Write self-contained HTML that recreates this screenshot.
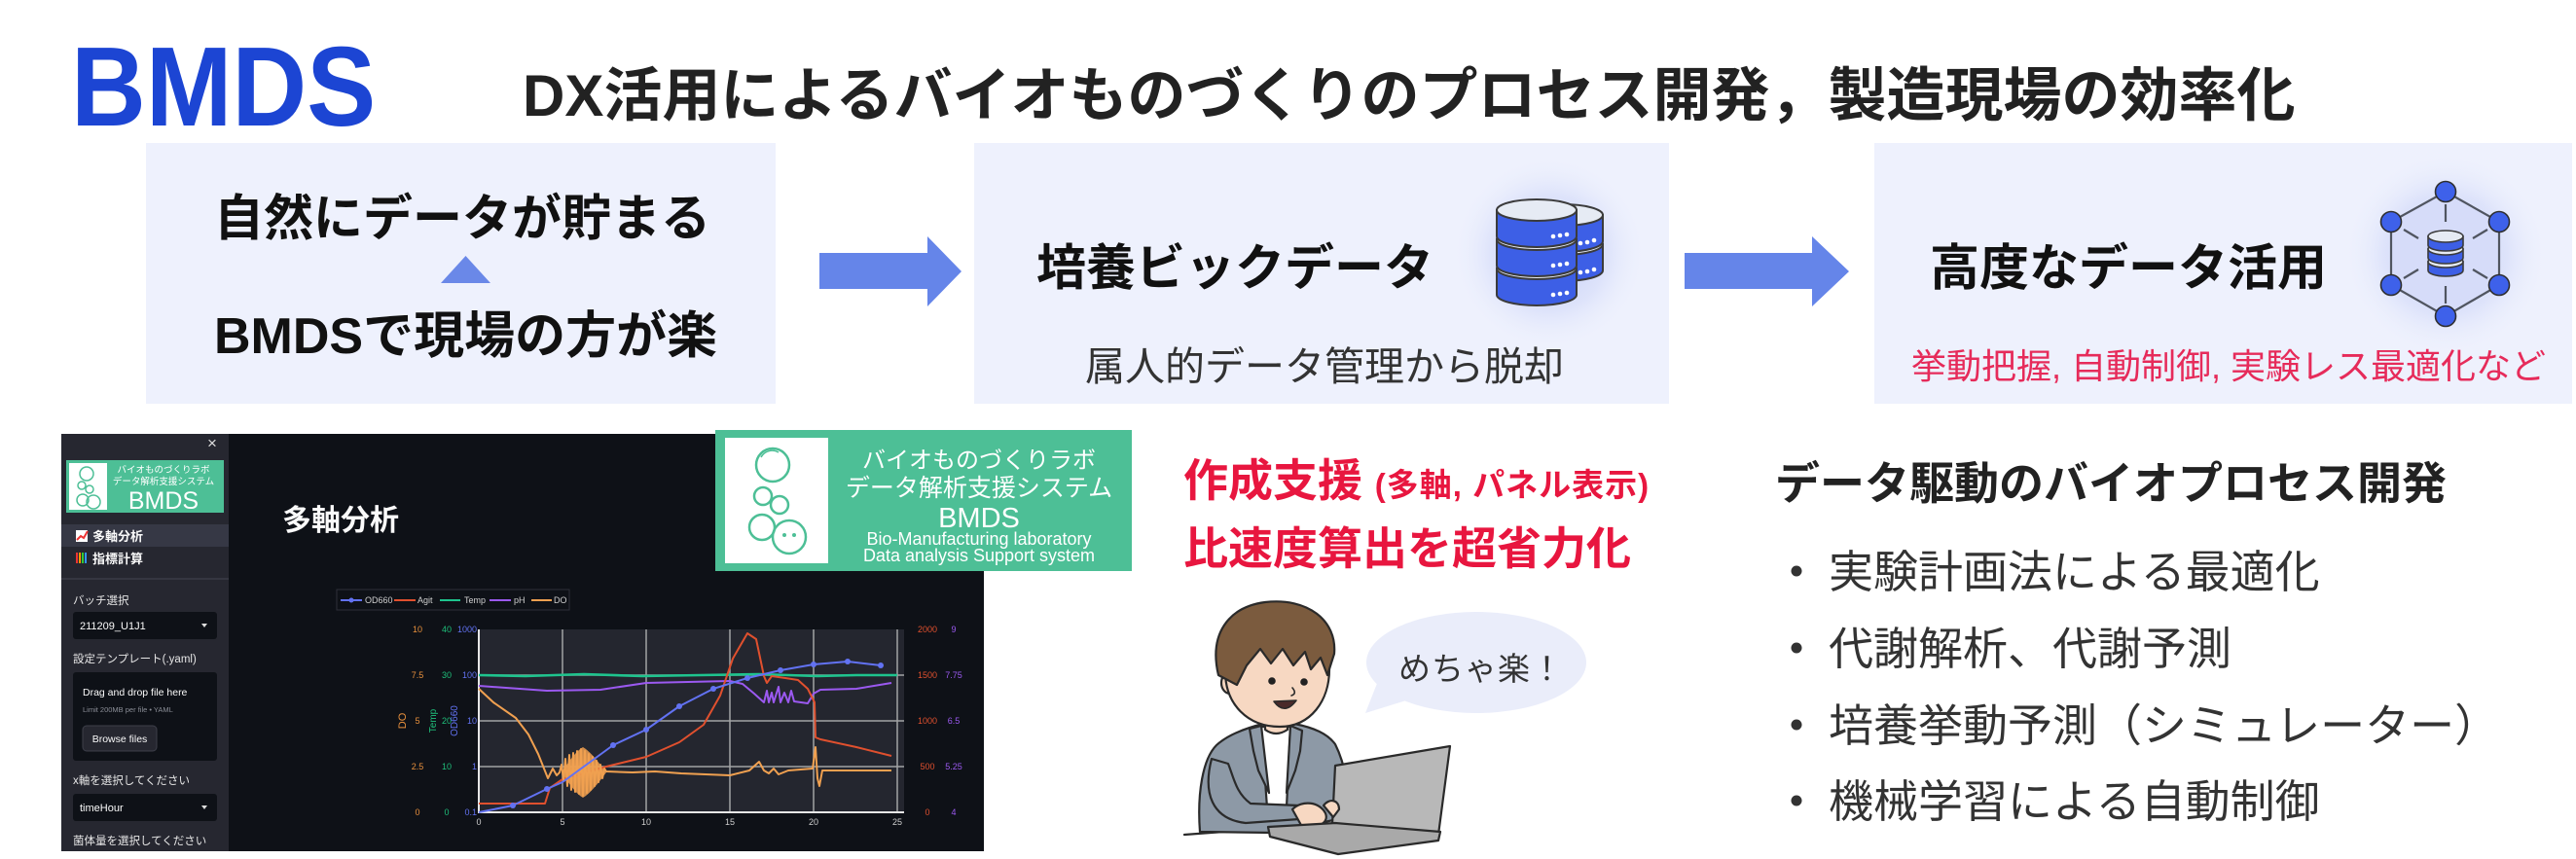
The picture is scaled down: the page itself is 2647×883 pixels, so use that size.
<!DOCTYPE html>
<html><head><meta charset="utf-8">
<style>
html,body{margin:0;padding:0;background:#fff;}
body{width:2647px;height:883px;position:relative;overflow:hidden;font-family:"Liberation Sans","Noto Sans CJK JP",sans-serif;}
.t{position:absolute;white-space:nowrap;line-height:1;}
.b{font-weight:700;}
</style></head><body>
<svg width="2647" height="883" style="position:absolute;left:0;top:0" font-family="Liberation Sans, Noto Sans CJK JP, sans-serif">
<defs>
<radialGradient id="glow" cx="50%" cy="50%" r="50%">
<stop offset="0" stop-color="#bcc7fa" stop-opacity="1"/>
<stop offset="0.6" stop-color="#d3daf9" stop-opacity="0.6"/>
<stop offset="1" stop-color="#eef1fd" stop-opacity="0"/>
</radialGradient>
</defs>
<!-- boxes -->
<rect x="150" y="147" width="647" height="268" fill="#eef1fd"/>
<rect x="1001" y="147" width="714" height="268" fill="#eef1fd"/>
<rect x="1926" y="147" width="717" height="268" fill="#eef1fd"/>
<!-- triangle -->
<polygon points="453,291 478.5,263 504,291" fill="#6a88e8"/>
<!-- arrows -->
<polygon points="842,260 953,260 953,243 988,279 953,315 953,297 842,297" fill="#6585e9"/>
<polygon points="1731,260 1862,260 1862,243 1900,279 1862,315 1862,297 1731,297" fill="#6585e9"/>

<!-- DB icon -->
<circle cx="1592" cy="260" r="100" fill="url(#glow)"/>
<g stroke="#3b3b3b" stroke-width="2">
<path d="M1565,251 L1565,278 A41,11 0 0 0 1647,278 L1647,251 Z" fill="#3d5fe6"/>
<ellipse cx="1606" cy="251" rx="41" ry="11" fill="#e6ebf4"/>
<path d="M1565,221 L1565,248 A41,11 0 0 0 1647,248 L1647,221 Z" fill="#3d5fe6"/>
<ellipse cx="1606" cy="221" rx="41" ry="11" fill="#e6ebf4"/>
<path d="M1538,276 L1538,303 A41,11 0 0 0 1620,303 L1620,276 Z" fill="#3d5fe6"/>
<ellipse cx="1579" cy="276" rx="41" ry="11" fill="#e6ebf4"/>
<path d="M1538,246 L1538,273 A41,11 0 0 0 1620,273 L1620,246 Z" fill="#3d5fe6"/>
<ellipse cx="1579" cy="246" rx="41" ry="11" fill="#e6ebf4"/>
<path d="M1538,216 L1538,243 A41,11 0 0 0 1620,243 L1620,216 Z" fill="#3d5fe6"/>
<ellipse cx="1579" cy="216" rx="41" ry="11" fill="#e6ebf4"/>
</g>
<g fill="#fff">
<circle cx="1596" cy="243" r="2.3"/><circle cx="1603" cy="242" r="2.3"/><circle cx="1610" cy="241" r="2.3"/>
<circle cx="1596" cy="273" r="2.3"/><circle cx="1603" cy="272" r="2.3"/><circle cx="1610" cy="271" r="2.3"/>
<circle cx="1596" cy="303" r="2.3"/><circle cx="1603" cy="302" r="2.3"/><circle cx="1610" cy="301" r="2.3"/>
<circle cx="1624" cy="250" r="2.3"/><circle cx="1631" cy="249" r="2.3"/><circle cx="1638" cy="247" r="2.3"/>
<circle cx="1624" cy="280" r="2.3"/><circle cx="1631" cy="279" r="2.3"/><circle cx="1638" cy="277" r="2.3"/>
</g>

<!-- Network icon -->
<circle cx="2513" cy="261" r="105" fill="url(#glow)"/>
<polygon points="2513,197 2568,228 2568,293 2513,325 2457,293 2457,228" fill="#d6dcf9" stroke="#505560" stroke-width="2.2"/>
<g stroke="#505560" stroke-width="2.2">
<line x1="2513" y1="210" x2="2513" y2="228"/>
<line x1="2513" y1="294" x2="2513" y2="312"/>
<line x1="2470" y1="236" x2="2485" y2="245"/>
<line x1="2556" y1="236" x2="2541" y2="245"/>
<line x1="2470" y1="286" x2="2485" y2="277"/>
<line x1="2556" y1="286" x2="2541" y2="277"/>
</g>
<g stroke="#3b3b3b" stroke-width="1.6">
<path d="M2495,269 L2495,278 A18,6 0 0 0 2531,278 L2531,269 Z" fill="#3d5fe6"/>
<ellipse cx="2513" cy="269" rx="18" ry="6" fill="#e6ebf4"/>
<path d="M2495,256 L2495,265 A18,6 0 0 0 2531,265 L2531,256 Z" fill="#3d5fe6"/>
<ellipse cx="2513" cy="256" rx="18" ry="6" fill="#e6ebf4"/>
<path d="M2495,243 L2495,252 A18,6 0 0 0 2531,252 L2531,243 Z" fill="#3d5fe6"/>
<ellipse cx="2513" cy="243" rx="18" ry="6" fill="#e6ebf4"/>
</g>
<g fill="#3e61ea" stroke="#2f2f2f" stroke-width="1.6">
<circle cx="2513" cy="197" r="10.5"/><circle cx="2568" cy="228" r="10.5"/><circle cx="2568" cy="293" r="10.5"/>
<circle cx="2513" cy="325" r="10.5"/><circle cx="2457" cy="293" r="10.5"/><circle cx="2457" cy="228" r="10.5"/>
</g>

<!-- Dark screenshot -->
<rect x="63" y="446" width="948" height="429" fill="#0e1117"/>
<rect x="63" y="446" width="172" height="429" fill="#262730"/>
<rect x="63" y="539" width="172" height="23" fill="#363845"/>
<line x1="63" y1="595" x2="235" y2="595" stroke="#3a3c47" stroke-width="1.5"/>
<text x="218" y="461" fill="#dddddd" font-size="17" text-anchor="middle">×</text>
<rect x="68" y="473" width="162" height="54" fill="#4dbf96"/>
<rect x="71" y="476" width="39" height="48" fill="#fff"/>
<g fill="none" stroke="#4dbf96" stroke-width="1.5">
<circle cx="89" cy="487" r="7"/><circle cx="84" cy="499" r="4"/><circle cx="92" cy="503" r="4"/>
<circle cx="85" cy="514" r="6"/><circle cx="96" cy="516" r="7"/>
</g>
<text x="168" y="486" fill="#fff" font-size="9.5" text-anchor="middle">バイオものづくりラボ</text>
<text x="168" y="498" fill="#fff" font-size="9.5" text-anchor="middle">データ解析支援システム</text>
<text x="168" y="523" fill="#fff" font-size="25" text-anchor="middle">BMDS</text>
<rect x="78" y="545" width="12" height="12" fill="#fff"/>
<polyline points="79,555 83,551 86,553 90,546" fill="none" stroke="#e33" stroke-width="2"/>
<text x="95" y="556" fill="#fafafa" font-size="13" font-weight="700">多軸分析</text>
<rect x="78" y="568" width="2" height="11" fill="#e33"/><rect x="81" y="568" width="2" height="11" fill="#f90"/>
<rect x="84" y="568" width="2" height="11" fill="#3c3"/><rect x="87" y="568" width="2" height="11" fill="#39f"/>
<text x="95" y="579" fill="#fafafa" font-size="13" font-weight="700">指標計算</text>
<text x="75" y="621" fill="#e6e6e6" font-size="11.5">バッチ選択</text>
<rect x="75" y="629" width="148" height="28" rx="3" fill="#0e1117"/>
<text x="82" y="647" fill="#fafafa" font-size="11">211209_U1J1</text>
<polygon points="207,641 213,641 210,645" fill="#ddd"/>
<text x="75" y="681" fill="#e6e6e6" font-size="11.5">設定テンプレート(.yaml)</text>
<rect x="75" y="691" width="148" height="91" rx="3" fill="#0e1117"/>
<text x="85" y="715" fill="#fafafa" font-size="10.5">Drag and drop file here</text>
<text x="85" y="732" fill="#8a8d96" font-size="7.5">Limit 200MB per file • YAML</text>
<rect x="85" y="746" width="76" height="26" rx="4" fill="#262730" stroke="#3d3f4a"/>
<text x="123" y="763" fill="#fafafa" font-size="10.5" text-anchor="middle">Browse files</text>
<text x="75" y="806" fill="#e6e6e6" font-size="11.5">x軸を選択してください</text>
<rect x="75" y="816" width="148" height="28" rx="3" fill="#0e1117"/>
<text x="82" y="834" fill="#fafafa" font-size="11">timeHour</text>
<polygon points="207,828 213,828 210,832" fill="#ddd"/>
<text x="75" y="868" fill="#e6e6e6" font-size="11.5">菌体量を選択してください</text>
<text x="290" y="545" fill="#fafafa" font-size="30" font-weight="700">多軸分析</text>
<rect x="346" y="606" width="239" height="21" fill="#0e1117" stroke="#2d2f38"/>
<g stroke-width="2">
<line x1="350" y1="617" x2="372" y2="617" stroke="#6272f2"/><circle cx="361" cy="617" r="2.5" fill="#6272f2"/>
<line x1="405" y1="617" x2="427" y2="617" stroke="#e0502e"/>
<line x1="452" y1="617" x2="473" y2="617" stroke="#1ec48e"/>
<line x1="503" y1="617" x2="525" y2="617" stroke="#9b59f0"/>
<line x1="546" y1="617" x2="567" y2="617" stroke="#f0a050"/>
</g>
<g fill="#cfcfcf" font-size="9">
<text x="375" y="620">OD660</text><text x="429" y="620">Agit</text><text x="477" y="620">Temp</text>
<text x="528" y="620">pH</text><text x="569" y="620">DO</text>
</g>
<rect x="492" y="647" width="437" height="188" fill="#24262f"/>
<g stroke="#b9b9b9" stroke-width="1.5" opacity="0.85">
<line x1="578" y1="647" x2="578" y2="835"/><line x1="664" y1="647" x2="664" y2="835"/>
<line x1="750" y1="647" x2="750" y2="835"/><line x1="836" y1="647" x2="836" y2="835"/>
<line x1="922" y1="647" x2="922" y2="835"/>
<line x1="492" y1="694" x2="929" y2="694"/><line x1="492" y1="741" x2="929" y2="741"/>
<line x1="492" y1="788" x2="929" y2="788"/>
</g>
<line x1="492" y1="647" x2="492" y2="836" stroke="#e6e6e6" stroke-width="2"/>
<line x1="491" y1="835" x2="929" y2="835" stroke="#e6e6e6" stroke-width="2"/>
<g font-size="9" text-anchor="middle">
<g fill="#e8903c"><text x="429" y="650">10</text><text x="429" y="697">7.5</text><text x="429" y="744">5</text><text x="429" y="791">2.5</text><text x="429" y="838">0</text></g>
<g fill="#1fbf7a"><text x="459" y="650">40</text><text x="459" y="697">30</text><text x="459" y="744">20</text><text x="459" y="791">10</text><text x="459" y="838">0</text></g>
<g fill="#e0502e"><text x="953" y="650">2000</text><text x="953" y="697">1500</text><text x="953" y="744">1000</text><text x="953" y="791">500</text><text x="953" y="838">0</text></g>
<g fill="#9b59f0"><text x="980" y="650">9</text><text x="980" y="697">7.75</text><text x="980" y="744">6.5</text><text x="980" y="791">5.25</text><text x="980" y="838">4</text></g>
<g fill="#cfcfcf"><text x="492" y="848">0</text><text x="578" y="848">5</text><text x="664" y="848">10</text><text x="750" y="848">15</text><text x="836" y="848">20</text><text x="922" y="848">25</text></g>
</g>
<g fill="#6272f2" font-size="9" text-anchor="end"><text x="490" y="650">1000</text><text x="490" y="697">100</text><text x="490" y="744">10</text><text x="490" y="791">1</text><text x="490" y="838">0.1</text></g>
<text x="0" y="0" font-size="11" fill="#e8903c" text-anchor="middle" transform="translate(417,741) rotate(-90)">DO</text>
<text x="0" y="0" font-size="10" fill="#1fbf7a" text-anchor="middle" transform="translate(448,741) rotate(-90)">Temp</text>
<text x="0" y="0" font-size="10" fill="#6272f2" text-anchor="middle" transform="translate(470,741) rotate(-90)">OD660</text>
<!-- data -->
<path d="M577,794 C585,782 592,772 599,768 C606,772 614,782 623,794 C614,806 606,816 599,820 C592,816 585,806 577,794 Z" fill="#f0a050" opacity="0.85"/>
<g fill="none" stroke-width="2" stroke-linejoin="round">
<polyline stroke="#1ec48e" stroke-width="2.6" points="492,694 540,695 600,693 660,695 720,694 780,693 840,695 880,694 922,694"/>
<polyline stroke="#9b59f0" points="492,705 520,707 562,710 617,709 664,702 750,700 763,703 775,713 785,722 788,710 790,722 793,712 795,722 800,706 802,722 806,712 810,722 813,710 816,721 830,723 836,713 843,709 880,708 916,702"/>
<polyline stroke="#e0502e" points="492,826 560,826 565,810 578,801 623,788 664,778 698,763 723,745 740,715 753,677 768,651 777,657 785,695 788,702 793,695 807,697 820,699 830,708 837,722 838,758 843,760 880,768 916,777"/>
<polyline stroke="#f0a050" points="492,708 507,722 530,738 543,755 553,775 563,800 568,790 572,797 575,794 577,786 579,802 581,780 583,808 585,776 587,812 589,774 591,814 593,772 595,816 597,770 599,818 601,772 603,815 605,775 607,812 609,778 611,808 613,782 615,804 617,786 619,800 621,790 623,793 650,794 673,793 700,795 750,797 770,792 780,783 785,792 790,795 795,790 800,796 810,792 835,790 838,768 840,800 842,808 845,792 880,792 916,792"/>
<polyline stroke="#6272f2" points="492,835 527,828 562,811 578,804 630,766 664,750 698,726 733,708 768,697 802,689 836,683 871,680 905,684"/>
</g>
<g fill="#6272f2"><circle cx="527" cy="828" r="3"/><circle cx="562" cy="811" r="3"/><circle cx="630" cy="766" r="3"/><circle cx="664" cy="750" r="3"/><circle cx="698" cy="726" r="3"/><circle cx="733" cy="708" r="3"/><circle cx="768" cy="697" r="3"/><circle cx="802" cy="689" r="3"/><circle cx="836" cy="683" r="3"/><circle cx="871" cy="680" r="3"/><circle cx="905" cy="684" r="3"/></g>

<!-- big logo -->
<rect x="735" y="442" width="428" height="145" fill="#4dbf96"/>
<rect x="745" y="450" width="106" height="129" fill="#fff"/>
<g fill="none" stroke="#4dbf96" stroke-width="2.5">
<circle cx="794" cy="478" r="17"/><path d="M782,470 A13,13 0 0 1 800,465" stroke-width="1.5"/>
<circle cx="784" cy="510" r="9"/><circle cx="801" cy="519" r="9"/>
<circle cx="783" cy="542" r="13"/><circle cx="811" cy="552" r="17"/>
</g>
<circle cx="806" cy="550" r="2" fill="#4dbf96"/><circle cx="816" cy="550" r="2" fill="#4dbf96"/>

<!-- bubble -->
<ellipse cx="1517" cy="681" rx="113" ry="52" fill="#eaedfa"/>
<polygon points="1416,700 1403,733 1445,720" fill="#eaedfa"/>

<!-- person -->
<g stroke="#2a2a2a" stroke-width="2.2" stroke-linejoin="round" stroke-linecap="round">
<path d="M1217,858 L1312,851" fill="none"/>
<path d="M1233,855 C1230,815 1236,780 1250,766 C1262,755 1282,748 1298,744 L1330,744 C1350,748 1364,754 1372,765 C1382,785 1388,815 1384,840 L1310,856 Z" fill="#8d99a6"/>
<path d="M1296,747 L1326,747 L1322,830 L1302,830 Z" fill="#fff"/>
<path d="M1284,749 L1296,746 L1304,815 L1293,792 L1288,772 Z" fill="#8d99a6"/>
<path d="M1338,751 L1326,746 L1322,815 L1331,792 L1336,772 Z" fill="#8d99a6"/>
<path d="M1300,732 L1300,750 Q1311,758 1323,750 L1323,732 Z" fill="#f7d8c2"/>
<ellipse cx="1264" cy="702" rx="9" ry="11" fill="#f7d8c2"/>
<path d="M1259,690 C1259,724 1282,747 1315,747 C1347,747 1366,720 1366,688 C1366,662 1347,646 1312,646 C1278,646 1259,662 1259,690 Z" fill="#f7d8c2"/>
<path d="M1252,694 C1242,652 1262,624 1300,619 C1344,614 1374,638 1371,672 L1364,694 L1357,676 L1347,688 L1341,670 L1329,684 L1318,667 L1306,682 L1295,667 L1281,684 L1271,704 Z" fill="#7b5b3e"/>
<circle cx="1307" cy="700" r="3.8" fill="#222" stroke="none"/>
<circle cx="1340" cy="701" r="3.8" fill="#222" stroke="none"/>
<path d="M1328,707 Q1333,713 1327,715" fill="none" stroke-width="1.6"/>
<path d="M1309,721 Q1320,736 1332,720 Z" fill="#4a2a2a" stroke-width="1.6"/>
<path d="M1245,780 C1236,815 1245,842 1280,846 L1335,842 L1335,828 L1285,826 C1270,815 1268,800 1262,785 Z" fill="#8d99a6"/>
<path d="M1372,787 L1490,767 L1478,858 L1368,868 Z" fill="#b8b8b8"/>
<path d="M1328,832 C1338,822 1356,824 1362,836 C1366,846 1354,852 1338,850 Z" fill="#f7d8c2"/>
<path d="M1360,828 C1366,820 1376,822 1376,832 L1370,840 Z" fill="#f7d8c2"/>
<path d="M1303,850 L1372,846 L1480,855 L1478,864 L1375,878 L1305,860 Z" fill="#a9a9a9"/>
</g>

<g fill="#333"><circle cx="1846" cy="587" r="5.5"/><circle cx="1846" cy="666" r="5.5"/><circle cx="1846" cy="745" r="5.5"/><circle cx="1846" cy="823" r="5.5"/></g>
</svg>

<div class="t b" style="left:73px;top:31px;font-size:116px;color:#1c45d3;transform:scaleX(0.917);transform-origin:0 0;">BMDS</div>
<div class="t b" style="left:537px;top:69px;font-size:60px;color:#222;">DX活用によるバイオものづくりのプロセス開発，製造現場の効率化</div>

<div class="t b" style="left:220px;top:199px;font-size:51px;color:#111;">自然にデータが貯まる</div>
<div class="t b" style="left:220px;top:320px;font-size:52px;color:#111;">BMDSで現場の方が楽</div>

<div class="t b" style="left:1065px;top:250px;font-size:51px;color:#111;">培養ビックデータ</div>
<div class="t" style="left:1115px;top:357px;font-size:41px;color:#333;">属人的データ管理から脱却</div>

<div class="t b" style="left:1983px;top:250px;font-size:51px;color:#111;">高度なデータ活用</div>
<div class="t" style="left:1964px;top:359px;font-size:36px;color:#e62b5a;">挙動把握, 自動制御, 実験レス最適化など</div>

<div class="t" style="left:851px;top:462px;width:310px;text-align:center;font-size:24px;color:#fff;">バイオものづくりラボ</div>
<div class="t" style="left:851px;top:490px;width:310px;text-align:center;font-size:25px;color:#fff;">データ解析支援システム</div>
<div class="t" style="left:851px;top:519px;width:310px;text-align:center;font-size:29px;color:#fff;">BMDS</div>
<div class="t" style="left:851px;top:545px;width:310px;text-align:center;font-size:18px;color:#fff;">Bio-Manufacturing laboratory</div>
<div class="t" style="left:851px;top:562px;width:310px;text-align:center;font-size:18px;color:#fff;">Data analysis Support system</div>

<div class="t b" style="left:1216px;top:471px;font-size:46px;color:#e8163f;">作成支援 <span style="font-size:33px;letter-spacing:1px;">(多軸, パネル表示)</span></div>
<div class="t b" style="left:1216px;top:541px;font-size:46px;color:#e8163f;">比速度算出を超省力化</div>

<div class="t" style="left:1437px;top:671px;font-size:33px;color:#333;letter-spacing:1px;">めちゃ楽！</div>

<div class="t b" style="left:1824px;top:474px;font-size:46px;color:#222;">データ駆動のバイオプロセス開発</div>
<div class="t" style="left:1879px;top:565px;font-size:46px;color:#333;">実験計画法による最適化</div>
<div class="t" style="left:1879px;top:644px;font-size:46px;color:#333;">代謝解析、代謝予測</div>
<div class="t" style="left:1879px;top:723px;font-size:46px;color:#333;">培養挙動予測（シミュレーター）</div>
<div class="t" style="left:1879px;top:801px;font-size:46px;color:#333;">機械学習による自動制御</div>
</body></html>
